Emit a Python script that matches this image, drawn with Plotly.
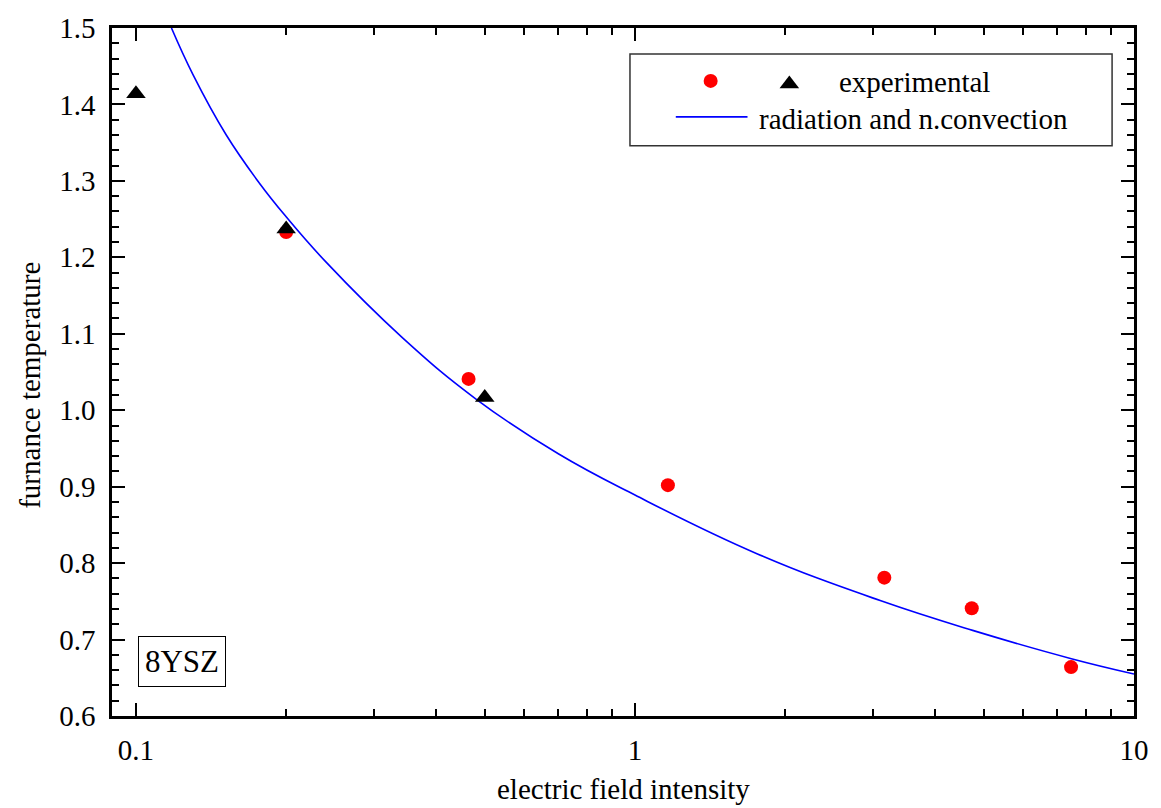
import plotly.graph_objects as go

# Experimental points (red circles)
exp_circle_x = [0.2, 0.464, 1.164, 3.16, 4.73, 7.48]
exp_circle_y = [1.233, 1.041, 0.902, 0.781, 0.741, 0.664]

# Experimental points (black triangles)
exp_tri_x = [0.1, 0.2, 0.5]
exp_tri_y = [1.414, 1.237, 1.0165]

# Radiation and natural convection model curve
model_x = [0.1178, 0.1301, 0.1517, 0.1768, 0.2, 0.2402, 0.3418, 0.4817,
           0.702, 1.0, 1.760, 3.10, 4.75, 7.49, 10.0]
model_y = [1.500, 1.439, 1.360, 1.297, 1.253, 1.194, 1.095, 1.014,
           0.943, 0.889, 0.812, 0.751, 0.712, 0.675, 0.655]

x_ticks = [0.1, 1, 10]
x_ticktext = ["0.1", "1", "10"]
x_minor = [0.2, 0.3, 0.4, 0.5, 0.6, 0.7, 0.8, 0.9,
           2, 3, 4, 5, 6, 7, 8, 9]

FONT = "Liberation Serif, Times New Roman, serif"

# plot area in pixels
L, R, T, B = 112, 1138, 27, 716
W, H = 1161, 808


def px(xp):
    return (xp - L) / (R - L)


def py(yp):
    return (B - yp) / (B - T)


fig = go.Figure()

fig.add_trace(go.Scatter(
    x=model_x, y=model_y, mode="lines",
    line=dict(color="#0000ff", width=1.6, shape="spline", smoothing=1.2),
    showlegend=False, cliponaxis=True,
))
fig.add_trace(go.Scatter(
    x=exp_circle_x, y=exp_circle_y, mode="markers",
    marker=dict(symbol="circle", size=14, color="#ff0000", line=dict(width=0)),
    showlegend=False, cliponaxis=False,
))
fig.add_trace(go.Scatter(
    x=exp_tri_x, y=exp_tri_y, mode="markers",
    marker=dict(symbol="triangle-up", size=17, color="#000000", line=dict(width=0)),
    showlegend=False, cliponaxis=False,
))

# legend glyphs drawn on an overlay axis spanning the plot area
fig.add_trace(go.Scatter(
    x=[px(713)], y=[py(80)], mode="markers", xaxis="x2", yaxis="y2",
    marker=dict(symbol="circle", size=14, color="#ff0000"),
    showlegend=False, hoverinfo="skip",
))
fig.add_trace(go.Scatter(
    x=[px(792)], y=[py(83)], mode="markers", xaxis="x2", yaxis="y2",
    marker=dict(symbol="triangle-up", size=17, color="#000000"),
    showlegend=False, hoverinfo="skip",
))
fig.add_trace(go.Scatter(
    x=[px(678), px(750)], y=[py(116), py(116)], mode="lines",
    xaxis="x2", yaxis="y2",
    line=dict(color="#0000ff", width=1.6),
    showlegend=False, hoverinfo="skip",
))

axis_common = dict(
    showline=True, linecolor="black", linewidth=2.5, mirror="ticks",
    ticks="inside", ticklen=13, tickwidth=2, tickcolor="black",
    showgrid=False, zeroline=False,
    tickfont=dict(family=FONT, size=29, color="black"),
)

fig.update_layout(
    width=W, height=H,
    margin=dict(l=L, r=W - R, t=T, b=H - B),
    paper_bgcolor="white", plot_bgcolor="white",
    showlegend=False,
    xaxis=dict(
        type="log", range=[-1.048, 1.0],
        tickvals=x_ticks, ticktext=x_ticktext,
        minor=dict(tickvals=x_minor, ticks="inside", ticklen=7,
                   tickwidth=2, tickcolor="black", showgrid=False),
        ticklabelstandoff=6,
        **axis_common,
    ),
    yaxis=dict(
        range=[0.6, 1.5], tick0=0.6, dtick=0.1, tickformat=".1f",
        minor=dict(dtick=0.02, ticks="inside", ticklen=7,
                   tickwidth=2, tickcolor="black", showgrid=False),
        ticklabelstandoff=8,
        **axis_common,
    ),
    xaxis2=dict(overlaying="x", range=[0, 1], visible=False, fixedrange=True),
    yaxis2=dict(overlaying="y", range=[0, 1], visible=False, fixedrange=True),
    shapes=[
        dict(type="rect", xref="paper", yref="paper",
             x0=px(632), x1=px(1116), y0=py(145), y1=py(53),
             line=dict(color="#333333", width=1.5), fillcolor="white",
             layer="below"),
    ],
    annotations=[
        dict(text="experimental", xref="paper", yref="paper",
             x=px(840), y=py(81), xanchor="left", yanchor="middle",
             showarrow=False, font=dict(family=FONT, size=29, color="black")),
        dict(text="radiation and n.convection", xref="paper", yref="paper",
             x=px(760), y=py(118), xanchor="left", yanchor="middle",
             showarrow=False, font=dict(family=FONT, size=29, color="black")),
        dict(text="8YSZ", xref="paper", yref="paper",
             x=px(182), y=py(661.5), xanchor="center", yanchor="middle",
             showarrow=False, bordercolor="black", borderwidth=1,
             borderpad=0, width=86, height=49,
             font=dict(family=FONT, size=31, color="black")),
        dict(text="electric field intensity", xref="paper", yref="paper",
             x=px(625), y=py(789), xanchor="center", yanchor="middle",
             showarrow=False, font=dict(family=FONT, size=29, color="black")),
        dict(text="furnance temperature", xref="paper", yref="paper",
             x=px(30), y=py(385), xanchor="center", yanchor="middle",
             textangle=-90,
             showarrow=False, font=dict(family=FONT, size=29, color="black")),
    ],
)

fig.write_html("out.html")
